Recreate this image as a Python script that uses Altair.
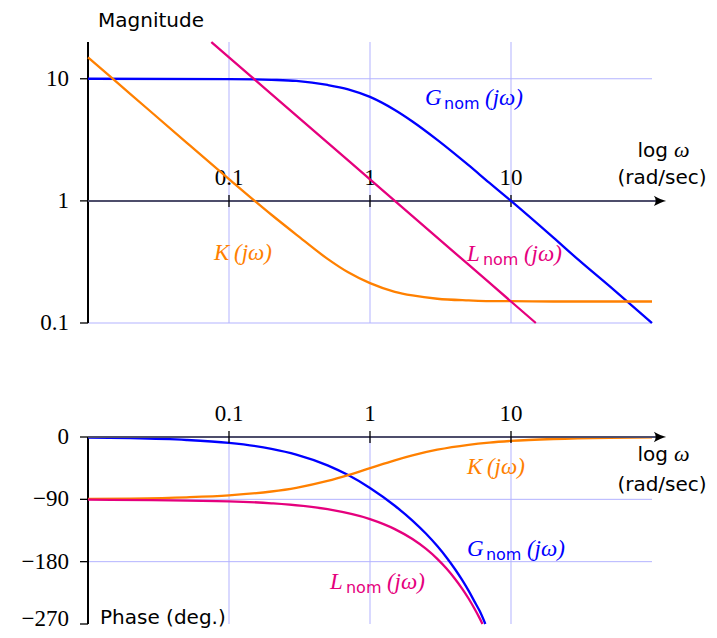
import altair as alt
import pandas as pd

# ---------------- values ----------------
# magnitude panel (omega in rad/sec, magnitude)
w_G_mag = [0.01, 0.1, 0.2, 0.3, 0.5, 0.7, 1, 1.5, 2, 3, 5, 7, 10, 20, 30, 50, 100]
G_mag = [10, 9.95, 9.8, 9.6, 8.9, 8.2, 7.1, 5.55, 4.47, 3.16, 1.96, 1.41, 1.0, 0.5, 0.33, 0.2, 0.1]
w_K_mag = [0.01, 0.02, 0.05, 0.1, 0.2, 0.3, 0.5, 0.7, 1, 1.5, 2, 3, 5, 7, 10, 20, 50, 100]
K_mag = [15.0, 7.5, 3.0, 1.51, 0.77, 0.53, 0.335, 0.26, 0.212, 0.18, 0.168, 0.158, 0.153, 0.151, 0.151, 0.15, 0.15, 0.15]
w_L_mag = [0.075, 0.1, 0.2, 0.5, 1, 2, 5, 10, 15]
L_mag = [20, 15, 7.5, 3, 1.5, 0.75, 0.3, 0.15, 0.1]

# phase panel (omega, degrees)
w_G_ph = [0.01, 0.02, 0.05, 0.1, 0.2, 0.3, 0.5, 0.7, 1, 1.5, 2, 2.5, 3, 3.5, 4, 4.5, 5, 5.5, 6, 6.58]
G_ph = [-0.9, -1.7, -4.3, -8.6, -17, -25.3, -40.9, -55, -73.6, -99.3, -120.7, -139.8, -157.5, -174.3,
        -190.6, -206.4, -221.9, -237.3, -251.4, -270]
w_K_ph = [0.01, 0.02, 0.05, 0.1, 0.2, 0.3, 0.5, 0.7, 1, 1.5, 2, 3, 5, 7, 10, 20, 50, 100]
K_ph = [-89.4, -88.9, -87.1, -84.3, -78.7, -73.3, -63.4, -55.0, -45, -33.7, -26.6, -18.4, -11.3, -8.1,
        -5.7, -2.9, -1.1, -0.6]
w_L_ph = [0.01, 0.1, 0.2, 0.5, 1, 1.5, 2, 2.5, 3, 3.5, 4, 4.5, 5, 5.5, 6, 6.28]
L_ph = [-90.3, -92.9, -95.7, -104.3, -118.6, -133.0, -147.3, -161.6, -175.9, -190.3, -204.6, -218.9,
        -233.2, -247.6, -261.9, -270]

# ticks / labels / domains
x_ticks = [0.1, 1, 10]
x_tick_labels = ["0.1", "1", "10"]
mag_ticks = [10, 1, 0.1]
mag_tick_labels = ["10", "1", "0.1"]
ph_ticks = [0, -90, -180, -270]
ph_tick_labels = ["0", "\u221290", "\u2212180", "\u2212270"]
mag_grid = [10, 0.1]
ph_grid = [-90, -180]
w_domain = [0.01, 100]
mag_domain = [0.1, 20]
ph_domain = [-270, 0]

# curve label anchors (omega, value) for each panel
lab_top = [("G", 2.455, 6.10), ("K", 0.0784, 0.328), ("L", 4.87, 0.322)]
lab_bot = [("K", 4.87, -53.4), ("G", 4.87, -171.8), ("L", 0.52, -219.5)]

# ---------------- styling ----------------
BLUE = "#0000ff"
ORANGE = "#ff8000"
MAGENTA = "#e5007d"
GRID = "#b3b3ff"
AXIS = "#4d4d6b"
SERIF = "Liberation Serif"
SANS = "DejaVu Sans"
COLORS = {"G": BLUE, "K": ORANGE, "L": MAGENTA}
ARROW = "M1,0 C0.4,-0.15 -0.3,-0.45 -1,-0.85 C-0.6,-0.3 -0.6,0.3 -1,0.85 C-0.3,0.45 0.4,0.15 1,0 Z"

W, H = 564, 582
xs = alt.Scale(type="log", domain=w_domain)
ms = alt.Scale(type="log", domain=mag_domain, range=[281, 0])
ps = alt.Scale(domain=ph_domain, range=[582, 395])


def xe(f="w"):
    return alt.X(f"{f}:Q", scale=xs, axis=None)


def ye(scale, f="v"):
    return alt.Y(f"{f}:Q", scale=scale, axis=None)


color_enc = alt.Color("s:N", scale=alt.Scale(domain=["G", "K", "L"],
                                              range=[BLUE, ORANGE, MAGENTA]), legend=None)


def curves(series, scale):
    rows = []
    for name, ws, vs in series:
        for w, v in zip(ws, vs):
            rows.append({"w": w, "v": v, "s": name})
    return alt.Chart(pd.DataFrame(rows)).mark_line(
        strokeWidth=2.3, interpolate="monotone").encode(
        x=xe(), y=ye(scale), color=color_enc, detail="s:N")


def panel_frame(scale, dom, grid_vals, axis_val, ticks, tick_labels, label_dy):
    layers = []
    # vertical grid
    layers.append(alt.Chart(pd.DataFrame({"w": x_ticks, "lo": dom[0], "hi": dom[1]})).mark_rule(
        color=GRID, strokeWidth=1).encode(x=xe(), y=ye(scale, "hi"), y2=alt.Y2("lo:Q")))
    # horizontal grid
    layers.append(alt.Chart(pd.DataFrame({"v": grid_vals})).mark_rule(
        color=GRID, strokeWidth=1).encode(y=ye(scale), x=alt.value(0), x2=alt.value(W)))
    # x tick labels (above the axis line)
    layers.append(alt.Chart(pd.DataFrame({"w": x_ticks, "v": axis_val, "t": x_tick_labels})).mark_text(
        font=SERIF, fontSize=23, baseline="alphabetic", dy=-16, color="black").encode(
        x=xe(), y=ye(scale), text="t:N"))
    # left axis line
    layers.append(alt.Chart(pd.DataFrame({"lo": [dom[0]], "hi": [dom[1]]})).mark_rule(
        color="black", strokeWidth=2).encode(x=alt.value(0), y=ye(scale, "hi"), y2=alt.Y2("lo:Q")))
    # y ticks
    layers.append(alt.Chart(pd.DataFrame({"v": ticks})).mark_rule(
        color="black", strokeWidth=1.3).encode(y=ye(scale), x=alt.value(-8), x2=alt.value(0)))
    # y tick labels
    df = pd.DataFrame({"v": ticks, "t": tick_labels})
    layers.append(alt.Chart(df.iloc[:-1]).mark_text(
        font=SERIF, fontSize=23, align="right", baseline="middle", color="black").encode(
        y=ye(scale), x=alt.value(-19), text="t:N"))
    layers.append(alt.Chart(df.iloc[-1:]).mark_text(
        font=SERIF, fontSize=23, align="right", baseline="middle", color="black", dy=label_dy).encode(
        y=ye(scale), x=alt.value(-19), text="t:N"))
    return layers


def axis_arrow(scale, axis_val):
    layers = []
    layers.append(alt.Chart(pd.DataFrame({"v": [axis_val]})).mark_rule(
        color=AXIS, strokeWidth=2).encode(y=ye(scale), x=alt.value(0), x2=alt.value(574)))
    layers.append(alt.Chart(pd.DataFrame({"w": x_ticks, "v": axis_val})).mark_rule(
        color="black", strokeWidth=1.3, yOffset=-6, y2Offset=6).encode(
        x=xe(), y=ye(scale), y2=alt.Y2("v:Q")))
    layers.append(alt.Chart(pd.DataFrame({"v": [axis_val]})).mark_point(
        shape=ARROW, filled=True, color="black", size=150, opacity=1, strokeWidth=0).encode(
        y=ye(scale), x=alt.value(572)))
    return layers


def curve_labels(labs, scale):
    main = pd.DataFrame([{"w": w, "v": v, "t": ("K\u2009(j\u03c9)" if k == "K" else k), "c": COLORS[k]}
                         for k, w, v in labs])
    layers = [alt.Chart(main).mark_text(font=SERIF, fontStyle="italic", fontSize=23,
                                        align="left", baseline="alphabetic").encode(
        x=xe(), y=ye(scale), text="t:N", color=alt.Color("c:N", scale=None))]
    for k, sub_dx, par_dx in [("G", 19, 60), ("L", 16, 57)]:
        df = pd.DataFrame([{"w": w, "v": v, "c": COLORS[kk]} for kk, w, v in labs if kk == k])
        layers.append(alt.Chart(df).mark_text(font=SANS, fontSize=16, align="left",
                                              baseline="alphabetic", dx=sub_dx, dy=4, text="nom").encode(
            x=xe(), y=ye(scale), color=alt.Color("c:N", scale=None)))
        layers.append(alt.Chart(df).mark_text(font=SERIF, fontStyle="italic", fontSize=23, align="left",
                                              baseline="alphabetic", dx=par_dx, text="(j\u03c9)").encode(
            x=xe(), y=ye(scale), color=alt.Color("c:N", scale=None)))
    return layers


def free_text(txt, x, y, align="left", size=20, font=SANS, style="normal"):
    return alt.Chart(pd.DataFrame({"t": [txt]})).mark_text(
        font=font, fontSize=size, fontStyle=style, align=align, baseline="alphabetic",
        color="black").encode(x=alt.value(x), y=alt.value(y), text="t:N")


def log_omega(y):
    return [free_text("log", 580, y, align="right"),
            free_text("\u03c9", 586, y, align="left", size=22, font=SERIF, style="italic")]


layers = []
# ----- magnitude panel -----
layers += panel_frame(ms, mag_domain, mag_grid, 1, mag_ticks, mag_tick_labels, 0)
layers += axis_arrow(ms, 1)
layers.append(curves([("G", w_G_mag, G_mag), ("K", w_K_mag, K_mag), ("L", w_L_mag, L_mag)], ms))
layers += curve_labels(lab_top, ms)
# ----- phase panel -----
layers += panel_frame(ps, ph_domain, ph_grid, 0, ph_ticks, ph_tick_labels, -5)
layers.append(curves([("G", w_G_ph, G_ph), ("K", w_K_ph, K_ph), ("L", w_L_ph, L_ph)], ps))
layers += axis_arrow(ps, 0)
layers += curve_labels(lab_bot, ps)
# ----- axis titles -----
layers.append(free_text("Magnitude", 10, -15))
layers.append(free_text("Phase (deg.)", 12, 582))
layers += log_omega(115)
layers.append(free_text("(rad/sec)", 574, 142, align="center"))
layers += log_omega(419)
layers.append(free_text("(rad/sec)", 574, 449, align="center"))

chart = alt.layer(*layers).resolve_scale(y="independent").properties(
    width=W, height=H,
    autosize=alt.AutoSizeParams(type="none"),
    padding={"left": 80, "top": 34, "right": 57, "bottom": 6},
).configure_view(stroke=None)

chart.save("out.html", embed_options={"renderer": "svg", "actions": False})
